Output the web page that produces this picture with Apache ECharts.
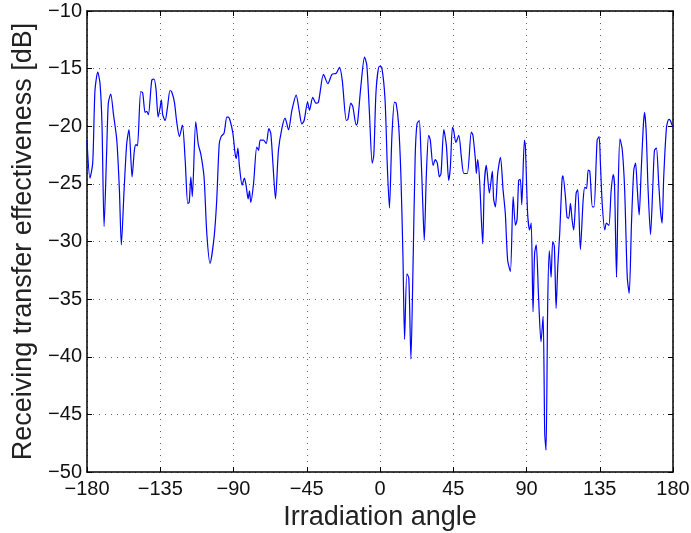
<!DOCTYPE html>
<html>
  <head>
    <meta charset="utf-8" />
    <title>Receiving transfer effectiveness</title>
    <script src="https://cdn.jsdelivr.net/npm/echarts@6.0.0/dist/echarts.min.js"></script>
  </head>
  <body style="margin: 0; padding: 0; border: 0; background: #fff">
    <div id="main" style="width: 691px; height: 533px"></div>
    <script type="text/javascript">
      // values
      var angles = [
        -180, -178.2, -176.5, -175.1, -173.4, -172, -170.8, -169.5, -167.9, -166.9,
        -165.4, -163.8, -161.7, -160.1, -158.9, -157.2, -155.6, -154.2, -152.3, -150.9,
        -149.9, -149, -147, -145.8, -144.3, -143.3, -142.3, -140.2, -138.8, -137.6,
        -136.3, -135.1, -134.3, -133.5, -132, -130.6, -129, -128, -126.3, -124.9,
        -123.2, -121.4, -119.7, -118.1, -117.2, -116.2, -115.3, -113.2, -111.6, -110.1,
        -108.1, -106.4, -104.4, -101.9, -100.3, -98.8, -97.6, -95.8, -94.1, -93.2,
        -92.1, -90.4, -89, -88.3, -87.3, -86.4, -84.7, -83.3, -82.2, -81,
        -80.2, -79.4, -77.7, -75.7, -74.6, -73.6, -71.6, -69.9, -68.3, -67.1,
        -65.8, -64.2, -62.4, -60.3, -58.3, -56.2, -54.1, -51.5, -49.5, -48,
        -46.6, -44.5, -43.3, -41.3, -39.2, -37.8, -34.7, -32, -29.5, -26.9,
        -24.9, -23.2, -20.7, -19.7, -17.9, -16.7, -14.6, -13.8, -11.8, -9.5,
        -8.1, -6.5, -4.8, -3.8, -2.4, -0.4, 1.1, 3.1, 4.5, 5.8,
        7.3, 8.9, 9.9, 11.4, 12.8, 14.1, 15.1, 16.5, 17.7, 19,
        20.2, 21.6, 22.7, 24.1, 25.1, 26.2, 27.2, 28.5, 29.9, 30.9,
        32.6, 34, 35.2, 36.5, 37.5, 39.2, 40.8, 42.2, 43.2, 44.5,
        45.3, 46.6, 48.4, 50, 51.5, 53.6, 56.1, 57.1, 58.6, 59.2,
        60, 61.2, 63.1, 64.1, 65.3, 67.2, 69, 69.8, 70.9, 72.3,
        74, 75.6, 77, 78.4, 80.1, 81.8, 83.2, 84.2, 85.2, 86.2,
        87.1, 88.7, 89.3, 90.7, 91.9, 92.9, 94, 95, 96, 97.4,
        98.9, 100.2, 101.2, 102, 103, 104, 105.1, 106.1, 107.1, 108.2,
        109.2, 110.4, 111.8, 112.4, 113.9, 114.9, 115.9, 117, 118, 119,
        120.5, 121.5, 123.1, 124.8, 125.8, 126.9, 127.9, 128.9, 130.5, 131.5,
        133.4, 134.6, 135.4, 136.5, 138.1, 139.1, 140.6, 142, 143.3, 144.1,
        145.3, 146.3, 147.4, 148.8, 150.3, 151.9, 153.1, 154.5, 155.9, 157,
        158, 159.2, 160.4, 161.7, 162.5, 163.5, 164.7, 166.2, 167.6, 168.6,
        169.8, 171.2, 172.3, 173.3, 174.3, 176, 177.4, 178.4, 179.4, 180
      ];
      var gainDb = [
        -21.2, -24.5, -23.2, -16.9, -15.3, -16.3, -19.8, -28.7, -22.1, -18.0,
        -17.2, -18.9, -21.2, -25.5, -30.3, -25.5, -21.5, -20.3, -24.4, -22.1,
        -21.6, -21.7, -17.0, -17.1, -18.8, -18.7, -19.0, -16.0, -15.9, -16.8,
        -19.2, -18.4, -17.7, -19.0, -19.5, -18.4, -16.9, -17.0, -17.9, -19.6,
        -20.9, -19.9, -22.9, -26.7, -26.6, -24.4, -26.1, -19.6, -21.6, -22.4,
        -24.4, -29.3, -31.9, -29.6, -26.4, -21.6, -20.9, -20.6, -19.2, -19.2,
        -19.5, -20.6, -22.4, -22.8, -21.9, -23.4, -25.1, -24.5, -25.2, -26.3,
        -25.6, -26.6, -25.0, -21.8, -22.1, -21.2, -21.2, -21.5, -20.2, -20.6,
        -23.2, -26.3, -22.1, -20.2, -19.3, -20.3, -18.6, -17.3, -18.8, -19.8,
        -19.5, -17.9, -18.6, -17.5, -18.0, -17.9, -15.5, -16.3, -15.5, -15.4,
        -14.9, -16.0, -19.5, -19.4, -18.0, -18.3, -19.9, -19.7, -16.6, -14.0,
        -14.7, -18.8, -23.2, -22.5, -16.9, -14.8, -14.9, -17.7, -23.5, -27.1,
        -20.9, -17.9, -18.0, -19.8, -24.1, -31.3, -38.5, -32.8, -33.2, -40.2,
        -32.8, -22.7, -19.8, -19.5, -22.1, -26.4, -29.9, -24.1, -20.8, -21.2,
        -23.4, -22.9, -23.2, -24.4, -24.1, -20.3, -21.7, -24.7, -23.6, -20.1,
        -20.4, -21.4, -20.8, -22.7, -24.1, -24.1, -20.5, -20.8, -22.9, -24.1,
        -22.9, -24.7, -30.2, -25.0, -23.4, -25.8, -23.9, -26.3, -27.0, -24.1,
        -22.7, -25.5, -27.6, -31.6, -32.6, -26.1, -28.6, -28.1, -24.7, -24.6,
        -26.8, -21.2, -21.7, -27.6, -29.0, -28.4, -36.1, -31.0, -30.3, -34.8,
        -38.7, -36.5, -46.6, -48.1, -35.7, -30.8, -33.1, -30.0, -30.4, -35.8,
        -32.2, -29.3, -24.7, -24.3, -26.1, -27.9, -28.0, -26.7, -28.1, -29.0,
        -25.8, -25.5, -30.7, -26.4, -25.3, -25.4, -23.8, -23.9, -27.0, -27.0,
        -21.2, -20.9, -23.2, -26.7, -29.0, -28.4, -28.6, -25.6, -24.2, -25.2,
        -33.1, -25.6, -21.1, -22.0, -25.5, -33.1, -34.5, -28.4, -23.8, -23.2,
        -25.3, -27.7, -24.1, -20.1, -18.8, -20.4, -25.5, -29.4, -25.2, -22.1,
        -21.9, -24.9, -27.3, -28.4, -24.4, -20.1, -19.4, -19.5, -19.9, -20.0
      ];

      var font = '"Liberation Sans", Arial, Helvetica, sans-serif';
      var minusFmt = function (v) {
        return String(v).replace("-", "\u2212");
      };

      var points = angles.map(function (a, i) {
        return [a, gainDb[i]];
      });

      var boxLine = { onZero: false, show: true, lineStyle: { color: "#000", width: 1.5 } };
      var inTick = { show: true, inside: true, length: 5, lineStyle: { color: "#000" } };
      var dotGrid = { show: true, lineStyle: { color: "#666", type: [1, 5], width: 1 } };

      var myChart = echarts.init(document.getElementById("main"));
      myChart.setOption({
        animation: false,
        backgroundColor: "#fff",
        grid: { left: 87, right: 18, top: 11, bottom: 61, outerBoundsMode: "none" },
        xAxis: [
          {
            type: "value",
            min: -180,
            max: 180,
            interval: 45,
            name: "Irradiation angle",
            nameLocation: "middle",
            nameGap: 28,
            nameTextStyle: { fontFamily: font, fontSize: 27, color: "#222" },
            axisLine: boxLine,
            axisTick: inTick,
            axisLabel: {
              fontFamily: font,
              fontSize: 20,
              color: "#111",
              margin: 7,
              formatter: minusFmt,
            },
            splitLine: dotGrid,
          },
          {
            type: "value",
            position: "top",
            min: -180,
            max: 180,
            interval: 45,
            axisLine: boxLine,
            axisTick: inTick,
            axisLabel: { show: false },
            splitLine: { show: false },
          },
        ],
        yAxis: [
          {
            type: "value",
            min: -50,
            max: -10,
            interval: 5,
            name: "Receiving transfer effectiveness [dB]",
            nameLocation: "middle",
            nameGap: 42,
            nameTextStyle: { fontFamily: font, fontSize: 27, color: "#222" },
            axisLine: boxLine,
            axisTick: inTick,
            axisLabel: {
              fontFamily: font,
              fontSize: 20,
              color: "#111",
              margin: 5,
              formatter: minusFmt,
            },
            splitLine: dotGrid,
          },
          {
            type: "value",
            position: "right",
            min: -50,
            max: -10,
            interval: 5,
            axisLine: boxLine,
            axisTick: inTick,
            axisLabel: { show: false },
            splitLine: { show: false },
          },
        ],
        series: [
          {
            type: "line",
            data: points,
            showSymbol: false,
            symbol: "none",
            smooth: 0.25,
            lineStyle: { color: "#0000ff", width: 1.2 },
          },
        ],
      });
    </script>
  </body>
</html>
